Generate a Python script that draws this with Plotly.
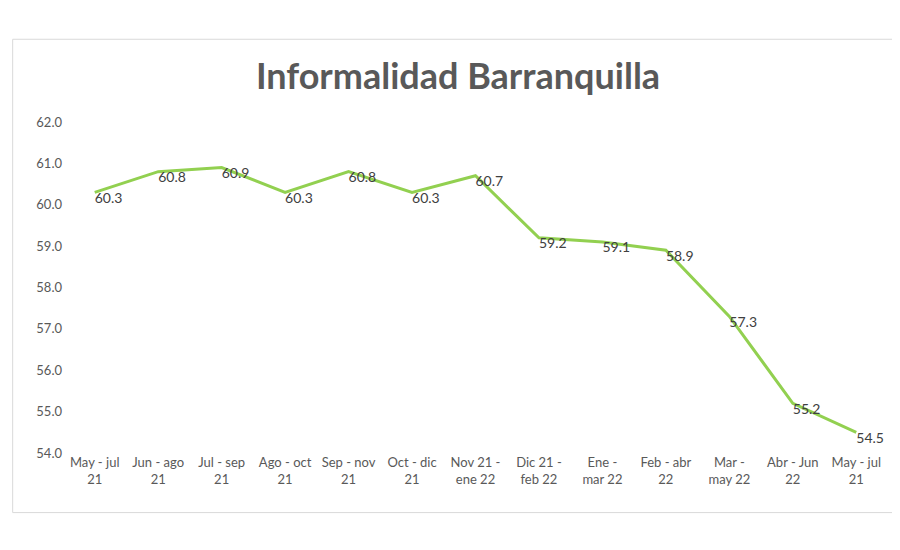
import plotly.graph_objects as go

periods = ["May - jul<br>21", "Jun - ago<br>21", "Jul - sep<br>21", "Ago - oct<br>21",
           "Sep - nov<br>21", "Oct - dic<br>21", "Nov 21 -<br>ene 22", "Dic 21 -<br>feb 22",
           "Ene -<br>mar 22", "Feb - abr<br>22", "Mar -<br>may 22", "Abr - Jun<br>22",
           "May - jul<br>21"]
informalidad = [60.3, 60.8, 60.9, 60.3, 60.8, 60.3, 60.7, 59.2, 59.1, 58.9, 57.3, 55.2, 54.5]
y_ticks = [54.0, 55.0, 56.0, 57.0, 58.0, 59.0, 60.0, 61.0, 62.0]

xs = list(range(len(periods)))

fig = go.Figure(go.Scatter(
    x=xs, y=informalidad, mode="lines+text",
    line=dict(color="#92d050", width=3),
    text=[f"{v:.1f}" for v in informalidad],
    textposition="bottom right",
    textfont=dict(size=14, color="#404040", family="Lato"),
    cliponaxis=False,
))

fig.update_layout(
    width=900, height=550,
    paper_bgcolor="white", plot_bgcolor="white",
    margin=dict(l=55, r=20, t=114, b=105),
    showlegend=False,
    title=dict(text="<b>Informalidad Barranquilla</b>", x=0.5, xanchor="center",
               y=0.875, yanchor="middle",
               font=dict(size=36, color="#595959", family="Lato")),
    xaxis=dict(tickvals=xs, ticktext=periods, range=[-0.5, len(xs) - 0.5],
               showgrid=False, zeroline=False,
               tickfont=dict(size=13, color="#595959", family="Lato")),
    yaxis=dict(range=[54, 62], tickvals=y_ticks,
               ticktext=[f"{v:.1f}" for v in y_ticks],
               showgrid=False, zeroline=False,
               tickfont=dict(size=13, color="#595959", family="Lato")),
    shapes=[dict(type="rect", xref="paper", yref="paper",
                 x0=-0.061, x1=1.015, y0=-0.18, y1=1.25,
                 line=dict(color="#d9d9d9", width=1))],
)

fig.write_html("out.html")
